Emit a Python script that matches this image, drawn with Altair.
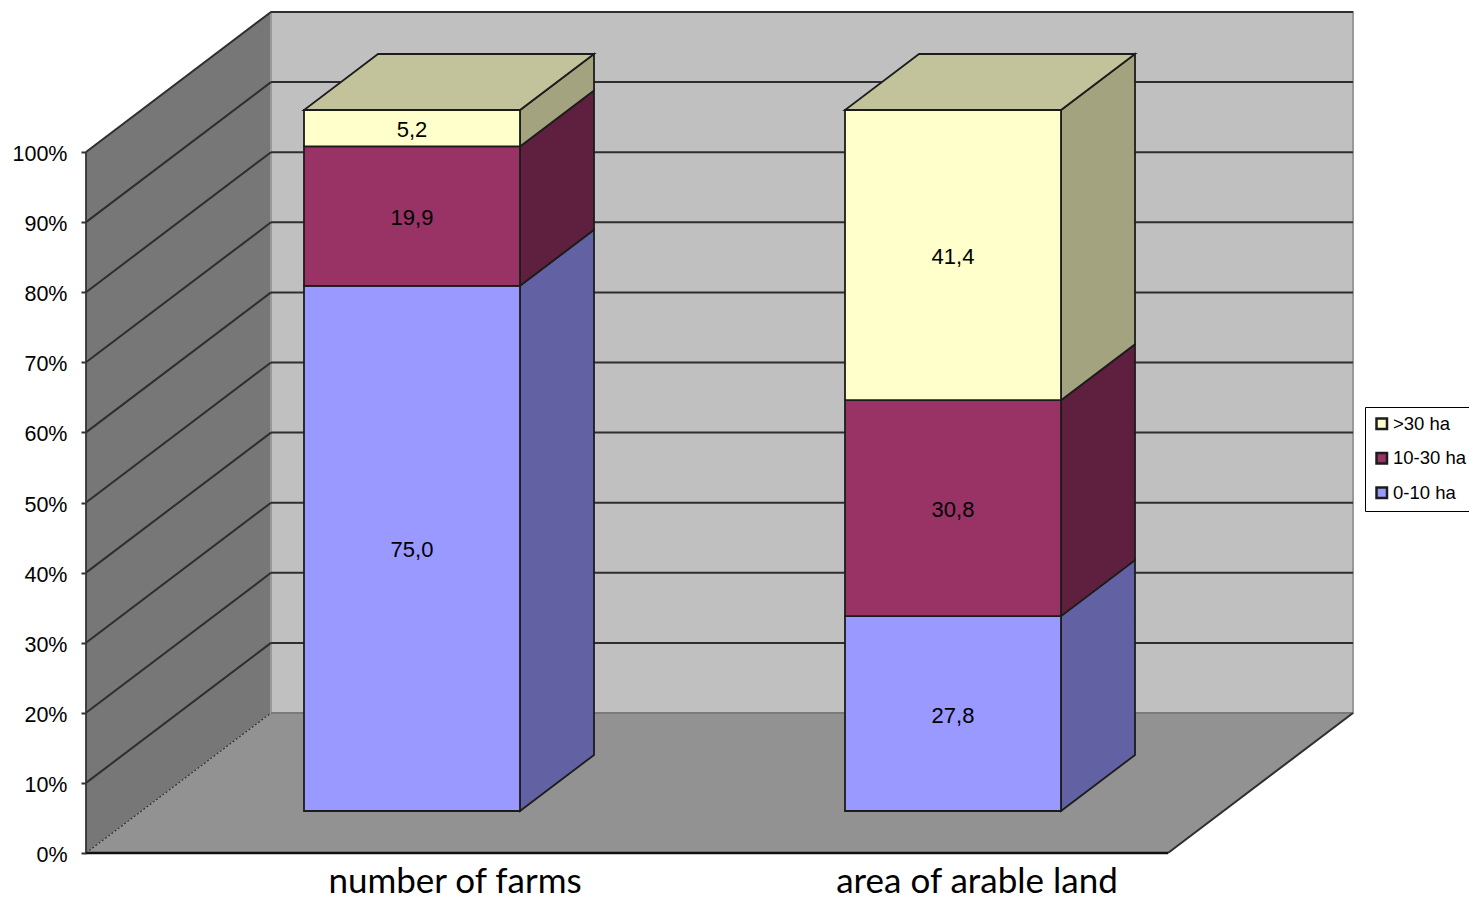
import altair as alt
import pandas as pd

categories = ["number of farms", "area of arable land"]
series = ["0-10 ha", "10-30 ha", ">30 ha"]
values_farms = [75.0, 19.9, 5.2]
values_land = [27.8, 30.8, 41.4]
ticks = [0, 10, 20, 30, 40, 50, 60, 70, 80, 90, 100]

front_colors = ["#9999FF", "#993366", "#FFFFCC"]
side_colors = ["#6161A3", "#5F1F3E", "#A3A380"]
top_color = "#C2C39B"

# 3D projection: unit depth moves right and up on the screen
PX_PER_PCT = 7.01
DEPTH_X = 185.0
DEPTH_PCT = 140.0 / PX_PER_PCT
FLOOR_W = 1082.0
BAND = FLOOR_W / 2
BAR_W = 216.0
D0, D1 = 0.3, 0.7
LABEL_SHIFT = [98.5, 79.5]
CAPTION_PCT = (853 - 892.5) / PX_PER_PCT

PLOT_W = 1383
PLOT_H = 893
Y_BOTTOM_PCT = (853 - 901) / PX_PER_PCT
Y_TOP_PCT = (853 - 8) / PX_PER_PCT

XS = alt.Scale(domain=[0, PLOT_W], range=[0, PLOT_W], nice=False, zero=False)
YS = alt.Scale(domain=[Y_BOTTOM_PCT, Y_TOP_PCT], nice=False, zero=False)

AX = alt.Axis(
    values=ticks,
    title=None,
    grid=False,
    domain=False,
    tickSize=5,
    tickWidth=2,
    tickColor="#333333",
    labelPadding=14,
    labelFont="Liberation Sans",
    labelFontSize=21.5,
    labelColor="#000000",
    labelExpr="datum.value + '%'",
    labelOffset=2.5,
)


def px(u, d):
    return u + DEPTH_X * d


def py(v, d):
    return v + DEPTH_PCT * d


X = alt.X("x:Q", scale=XS, axis=None)
X2 = alt.X2("x2:Q")
Y = alt.Y("y:Q", scale=YS, axis=AX)
Y2 = alt.Y2("y2:Q")

# Walls and floor
left_wall = pd.DataFrame(
    [{"x": px(0, d), "y": py(0, d), "y2": py(100, d)} for d in (0, 1)]
)
floor = pd.DataFrame(
    [{"y": py(0, d), "x": px(0, d), "x2": px(FLOOR_W, d)} for d in (0, 1)]
)
back = pd.DataFrame(
    [{"x": px(0, 1), "x2": px(FLOOR_W, 1), "y": py(0, 1), "y2": py(100, 1)}]
)

layers = [
    alt.Chart(left_wall).mark_area(color="#777777").encode(x=X, y=Y, y2=Y2),
    alt.Chart(back)
    .mark_rect(color="#C0C0C0", stroke="#999999", strokeWidth=2)
    .encode(x=X, x2=X2, y=Y, y2=Y2),
    alt.Chart(floor).mark_area(color="#929292", orient="horizontal").encode(y=Y, x=X, x2=X2),
]

# Grid lines
grid_back = pd.DataFrame(
    [{"x": px(0, 1), "x2": px(FLOOR_W, 1), "y": py(t, 1), "y2": py(t, 1)} for t in ticks if t > 0]
)
grid_floor_back = pd.DataFrame(
    [{"x": px(0, 1), "x2": px(FLOOR_W, 1), "y": py(0, 1), "y2": py(0, 1)}]
)
grid_left = pd.DataFrame(
    [{"x": px(0, 0), "x2": px(0, 1), "y": py(t, 0), "y2": py(t, 1)} for t in ticks if t > 0]
)
zero_diag = pd.DataFrame([{"x": px(0, 0), "x2": px(0, 1), "y": py(0, 0), "y2": py(0, 1)}])
right_diag = pd.DataFrame(
    [{"x": px(FLOOR_W, 0), "x2": px(FLOOR_W, 1), "y": py(0, 0), "y2": py(0, 1)}]
)
front_line = pd.DataFrame([{"x": px(0, 0), "x2": px(FLOOR_W, 0), "y": py(0, 0), "y2": py(0, 0)}])
left_edge = pd.DataFrame([{"x": px(0, 0), "x2": px(0, 0), "y": py(0, 0), "y2": py(100, 0)}])


def rule(df, color="#2E2E2E", width=2.0, **kw):
    return (
        alt.Chart(df)
        .mark_rule(color=color, strokeWidth=width, **kw)
        .encode(x=X, x2=X2, y=Y, y2=Y2)
    )


layers += [
    rule(grid_back),
    rule(grid_floor_back, color="#7A7A7A"),
    rule(grid_left),
    rule(zero_diag, width=1.2, strokeDash=[2, 2]),
    rule(right_diag),
    rule(front_line, color="#111111", width=2.6),
    rule(left_edge, color="#333333", width=1.8),
]

# Bars
fronts, sides, tops, labels = [], [], [], []
for c, (cat, vals) in enumerate(zip(categories, [values_farms, values_land])):
    total = sum(vals)
    u0 = BAND * c + (BAND - BAR_W) / 2
    u1 = u0 + BAR_W
    base = 0.0
    for s, v in enumerate(vals):
        lo = base
        hi = base + v / total * 100
        base = hi
        fronts.append(
            {"x": px(u0, D0), "x2": px(u1, D0), "y": py(lo, D0), "y2": py(hi, D0), "series": series[s]}
        )
        labels.append(
            {"x": px(u0 + BAR_W / 2, D0), "y": py((lo + hi) / 2, D0), "text": f"{v:.1f}".replace(".", ",")}
        )
        for d in (D0, D1):
            sides.append(
                {"x": px(u1, d), "y": py(lo, d), "y2": py(hi, d), "key": f"{c}-{s}", "color": side_colors[s]}
            )
    for d in (D0, D1):
        tops.append({"y": py(100, d), "x": px(u0, d), "x2": px(u1, d), "key": str(c), "color": top_color})

layers.append(
    alt.Chart(pd.DataFrame(sides))
    .mark_area(stroke="#1C1C1C", strokeWidth=1.8)
    .encode(x=X, y=Y, y2=Y2, detail="key:N", fill=alt.Fill("color:N", scale=None))
)
layers.append(
    alt.Chart(pd.DataFrame(tops))
    .mark_area(orient="horizontal", stroke="#1C1C1C", strokeWidth=1.8)
    .encode(y=Y, x=X, x2=X2, detail="key:N", fill=alt.Fill("color:N", scale=None))
)
layers.append(
    alt.Chart(pd.DataFrame(fronts))
    .mark_rect(stroke="#1C1C1C", strokeWidth=1.8)
    .encode(
        x=X,
        x2=X2,
        y=Y,
        y2=Y2,
        fill=alt.Fill(
            "series:N",
            scale=alt.Scale(domain=series[::-1], range=front_colors[::-1]),
            legend=alt.Legend(
                title=None,
                orient="none",
                legendX=1279,
                legendY=399,
                strokeColor="#000000",
                fillColor="#FFFFFF",
                padding=7.5,
                symbolType="square",
                symbolSize=110,
                symbolStrokeColor="#000000",
                symbolStrokeWidth=2.5,
                labelFont="Liberation Sans",
                labelFontSize=18.5,
                labelColor="#000000",
                labelOffset=2,
                rowPadding=13.5,
                labelLimit=200,
            ),
        ),
    )
)
layers.append(
    alt.Chart(pd.DataFrame(labels))
    .mark_text(font="Liberation Sans", fontSize=22, color="#000000", dy=2)
    .encode(x=X, y=Y, text="text:N")
)

# Category captions
caps = pd.DataFrame(
    [
        {"x": BAND * i + BAND / 2 + LABEL_SHIFT[i], "y": CAPTION_PCT, "text": cat}
        for i, cat in enumerate(categories)
    ]
)
layers.append(
    alt.Chart(caps)
    .mark_text(font="Lato", fontSize=35, color="#000000", baseline="alphabetic")
    .encode(x=X, y=Y, text="text:N")
)

chart = (
    alt.layer(*layers)
    .properties(
        width=PLOT_W,
        height=PLOT_H,
        background="#FFFFFF",
        padding={"left": 78, "top": 0, "right": 0, "bottom": 0},
        autosize=alt.AutoSizeParams(type="none"),
    )
    .configure_view(stroke=None)
)

chart.save("out.html", embed_options={"renderer": "svg", "actions": False})
